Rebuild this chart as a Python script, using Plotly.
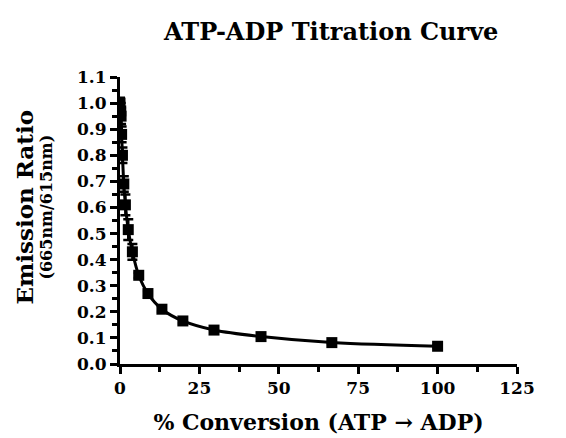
import plotly.graph_objects as go

conversion = [0, 0.23, 0.34, 0.51, 0.77, 1.2, 1.7, 2.6, 3.9, 5.9, 8.8, 13.2, 19.8, 29.6, 44.4, 66.7, 100]
ratio = [1.00, 0.97, 0.95, 0.88, 0.80, 0.69, 0.61, 0.515, 0.43, 0.34, 0.27, 0.21, 0.165, 0.13, 0.105, 0.082, 0.068]
err = [0.02, 0.03, 0.03, 0.03, 0.03, 0.03, 0.04, 0.04, 0.03, 0.01, 0.01, 0.01, 0.01, 0.005, 0.005, 0.005, 0.005]

x_ticks = [0, 25, 50, 75, 100, 125]
y_ticks = [0.0, 0.1, 0.2, 0.3, 0.4, 0.5, 0.6, 0.7, 0.8, 0.9, 1.0, 1.1]

FONT = "DejaVu Serif"

fig = go.Figure()
fig.add_trace(go.Scatter(
    x=conversion, y=ratio, mode="lines", line=dict(color="black", width=3, shape="spline", smoothing=1.0),
    hoverinfo="skip", showlegend=False))
fig.add_trace(go.Scatter(
    x=conversion, y=ratio, mode="markers",
    marker=dict(symbol="square", size=11, color="black"),
    error_y=dict(type="data", array=err, visible=True, color="black", thickness=2.5, width=5),
    showlegend=False))

fig.update_layout(
    width=566, height=438,
    margin=dict(l=112, r=57, t=69, b=82),
    plot_bgcolor="white", paper_bgcolor="white",
    font=dict(family=FONT, color="black"),
    title=dict(text="<b>ATP-ADP Titration Curve</b>", x=0.571, xanchor="center", y=0.945, yanchor="middle",
               font=dict(family=FONT, size=24, color="black")),
    annotations=[
        dict(text="<b>Emission Ratio</b>", xref="paper", yref="paper", x=0, y=0.545,
             xanchor="center", yanchor="middle", xshift=-95, textangle=-90, showarrow=False,
             font=dict(family=FONT, size=23, color="black")),
        dict(text="<b>(665nm/615nm)</b>", xref="paper", yref="paper", x=0, y=0.545,
             xanchor="center", yanchor="middle", xshift=-73, textangle=-90, showarrow=False,
             font=dict(family=FONT, size=16, color="black")),
    ],
)
fig.update_xaxes(
    range=[0, 125], tickvals=x_ticks, ticktext=[f"<b>{v}</b>" for v in x_ticks],
    showgrid=False, zeroline=False, showline=True, linecolor="black", linewidth=3,
    ticks="outside", ticklen=7, tickwidth=3, tickcolor="black",
    minor=dict(ticks="outside", ticklen=5, tickwidth=3, tickcolor="black", dtick=12.5),
    tickfont=dict(family=FONT, size=17, color="black"), ticklabeloverflow="allow",
    title=dict(text="<b>% Conversion (ATP → ADP)</b>", font=dict(family=FONT, size=22, color="black"), standoff=18),
)
fig.update_yaxes(
    range=[0, 1.1], tickvals=y_ticks, ticktext=[f"<b>{v:.1f}</b>" for v in y_ticks],
    showgrid=False, zeroline=False, showline=True, linecolor="black", linewidth=3,
    ticks="outside", ticklen=7, tickwidth=3, tickcolor="black",
    minor=dict(ticks="outside", ticklen=5, tickwidth=3, tickcolor="black", dtick=0.05),
    tickfont=dict(family=FONT, size=17, color="black"), ticklabeloverflow="allow",
)
fig.write_html("out.html")
